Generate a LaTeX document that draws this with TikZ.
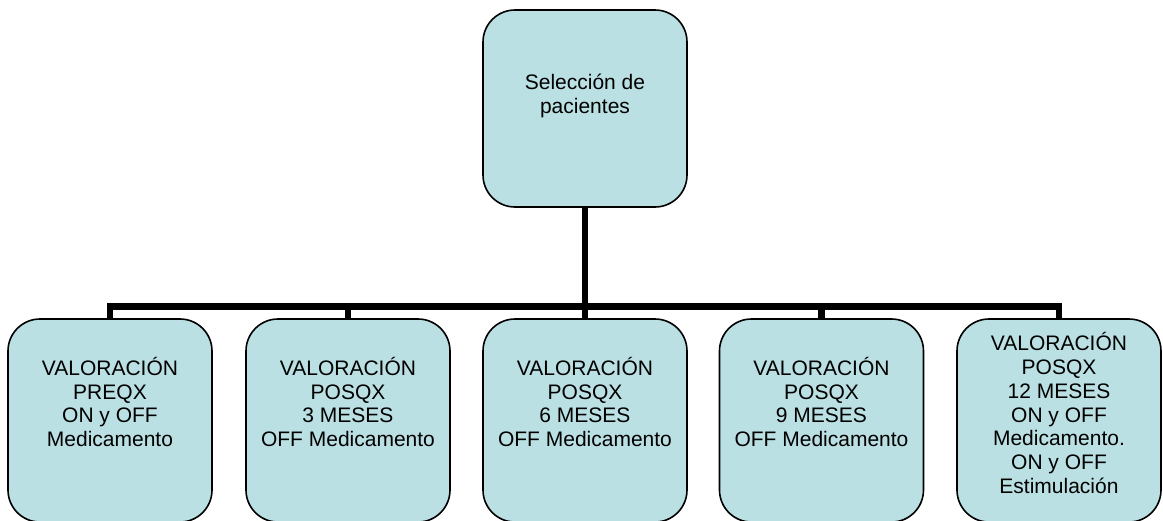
\documentclass[tikz,border=0pt]{standalone}
\usepackage{fontspec}
\setmainfont{Liberation Sans}
\definecolor{boxfill}{HTML}{BBE0E3}
\tikzset{
  box/.style={draw=black, line width=1.6pt, fill=boxfill, rounded corners=32pt,
    minimum width=204pt, inner sep=0pt, outer sep=0pt},
  bottombox/.style={box, minimum height=203pt},
  txt/.style={align=center, font=\fontsize{21pt}{23.9pt}\selectfont, inner sep=0pt},
  conn/.style={draw=black, line width=6.5pt, line join=miter, line cap=butt}
}
\begin{document}
\begin{tikzpicture}[x=1pt,y=-1pt]
\useasboundingbox (0,0) rectangle (1163,520);
% top box
\node[box, minimum height=197pt] (top) at (585,108.5) {};
% bottom boxes
\node[bottombox] (b1) at (110,420.5) {};
\node[bottombox] (b2) at (348,420.5) {};
\node[bottombox] (b3) at (585,420.5) {};
\node[bottombox] (b4) at (821.5,420.5) {};
\node[bottombox] (b5) at (1059,420.5) {};
% texts
\node[txt] (t0) at (585,96) {Selección de\\pacientes};
\node[txt] (t1) at (110,402) {VALORACIÓN\\PREQX\\ON y OFF\\Medicamento};
\node[txt] (t2) at (348,402) {VALORACIÓN\\POSQX\\3 MESES\\OFF Medicamento};
\node[txt] (t3) at (585,402) {VALORACIÓN\\POSQX\\6 MESES\\OFF Medicamento};
\node[txt] (t4) at (821.5,402) {VALORACIÓN\\POSQX\\9 MESES\\OFF Medicamento};
\node[txt] (t5) at (1059,413) {VALORACIÓN\\POSQX\\12 MESES\\ON y OFF\\Medicamento.\\ON y OFF\\Estimulación};
% connectors
\coordinate (j) at (585,306.5);
\draw[conn] (top.south) -- (j);
\draw[conn] (b1.north) |- (b5.north |- j) -- (b5.north);
\draw[conn] (b2.north |- j) -- (b2.north);
\draw[conn] (b3.north |- j) -- (b3.north);
\draw[conn] (b4.north |- j) -- (b4.north);
\end{tikzpicture}
\end{document}
